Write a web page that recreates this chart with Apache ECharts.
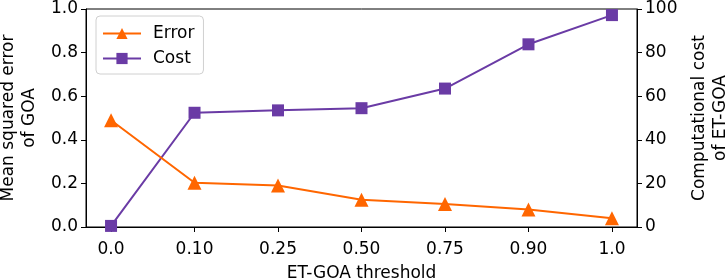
<!DOCTYPE html>
<html>
<head>
<meta charset="utf-8">
<script src="https://cdn.jsdelivr.net/npm/echarts@6/dist/echarts.min.js"></script>
<style>
  html, body { margin: 0; padding: 0; background: #fff; }
  #chart { width: 726px; height: 279px; }
</style>
</head>
<body>
<div id="chart"></div>
<script>
// categories on the x axis (ET-GOA threshold)
var thresholds = ['0.0', '0.10', '0.25', '0.50', '0.75', '0.90', '1.0'];
// mean squared error of GOA (left axis)
var errorValues = [0.49, 0.203, 0.19, 0.125, 0.105, 0.08, 0.04];
// computational cost of ET-GOA (right axis)
var costValues = [0.5, 52.4, 53.5, 54.5, 63.5, 83.8, 97.2];

var orange = '#ff6600';
var purple = '#6a3ba5';
var font = 'DejaVu Sans';

var chart = echarts.init(document.getElementById('chart'));

function pairs(vals) {
    return vals.map(function (v, i) { return [i, v]; });
}

var idx = thresholds.map(function (t, i) { return i; });

var option = {
    backgroundColor: '#fff',
    animation: false,
    textStyle: { fontFamily: font },
    grid: {
        left: 86, right: 89, top: 9, bottom: 52,
        containLabel: false,
        outerBoundsMode: 'none',
        show: true, borderColor: '#000', borderWidth: 1
    },
    legend: {
        orient: 'vertical',
        left: 96, top: 16,
        padding: [9, 9, 7, 6],
        itemGap: 8,
        itemWidth: 38, itemHeight: 14,
        borderColor: '#d0d0d0', borderWidth: 1, borderRadius: 4,
        backgroundColor: 'rgba(255,255,255,0.8)',
        textStyle: { fontSize: 17, color: '#000', fontFamily: font, padding: [0, 0, 0, 7] },
        data: ['Error', 'Cost']
    },
    xAxis: {
        type: 'value',
        min: -0.3, max: 6.3,
        name: 'ET-GOA threshold',
        nameLocation: 'middle',
        nameGap: 38,
        nameTextStyle: { fontSize: 17, color: '#000', fontFamily: font },
        splitLine: { show: false },
        axisLine: { show: true, onZero: false, lineStyle: { color: '#000', width: 1 } },
        axisTick: { show: true, length: 5, lineStyle: { color: '#000' }, customValues: idx },
        axisLabel: {
            fontSize: 17, color: '#000', margin: 14, fontFamily: font,
            customValues: idx,
            formatter: function (v) { return thresholds[Math.round(v)]; }
        }
    },
    yAxis: [
        {
            type: 'value',
            min: 0, max: 1, interval: 0.2,
            position: 'left',
            name: 'Mean squared error\nof GOA',
            nameLocation: 'middle',
            nameRotate: 90,
            nameGap: 44,
            nameTextStyle: { fontSize: 17, color: '#000', fontFamily: font, lineHeight: 21 },
            splitLine: { show: false },
            axisLine: { show: true, onZero: false, lineStyle: { color: '#000', width: 1 } },
            axisTick: { show: true, length: 5, lineStyle: { color: '#000' } },
            axisLabel: {
                fontSize: 17, color: '#000', margin: 8, fontFamily: font,
                formatter: function (v) { return v.toFixed(1); }
            }
        },
        {
            type: 'value',
            min: 0, max: 100, interval: 20,
            position: 'right',
            name: 'Computational cost\nof ET-GOA',
            nameLocation: 'middle',
            nameRotate: 90,
            nameGap: 52,
            nameTextStyle: { fontSize: 17, color: '#000', fontFamily: font, lineHeight: 21 },
            splitLine: { show: false },
            axisLine: { show: true, onZero: false, lineStyle: { color: '#000', width: 1 } },
            axisTick: { show: true, length: 5, lineStyle: { color: '#000' } },
            axisLabel: { fontSize: 17, color: '#000', margin: 8, fontFamily: font }
        }
    ],
    series: [
        {
            name: 'Error',
            type: 'line',
            yAxisIndex: 0,
            data: pairs(errorValues),
            symbol: 'triangle',
            symbolSize: 14,
            lineStyle: { color: orange, width: 2 },
            itemStyle: { color: orange },
            z: 3
        },
        {
            name: 'Cost',
            type: 'line',
            yAxisIndex: 1,
            data: pairs(costValues),
            symbol: 'rect',
            symbolSize: 12,
            lineStyle: { color: purple, width: 2 },
            itemStyle: { color: purple },
            z: 2
        }
    ]
};

chart.setOption(option);
</script>
</body>
</html>
